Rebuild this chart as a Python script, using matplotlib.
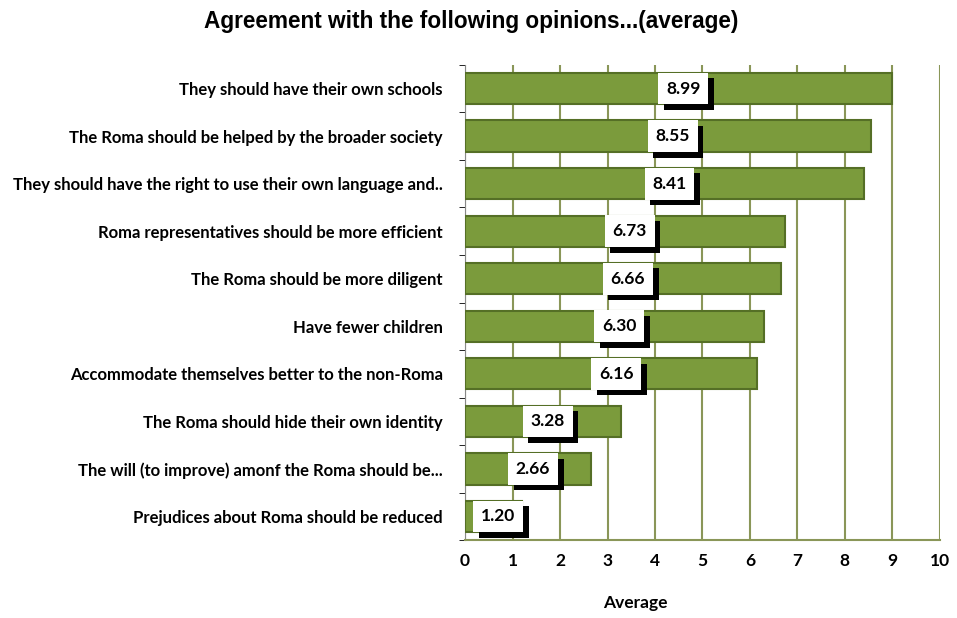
import matplotlib
matplotlib.use("Agg")
import matplotlib.pyplot as plt
import matplotlib.patheffects as pe
import numpy as np

categories = [
    "They should have their own schools",
    "The Roma should be helped by the broader society",
    "They should have the right to use their own language and..",
    "Roma representatives should be more efficient",
    "The Roma should be more diligent",
    "Have fewer children",
    "Accommodate themselves better to the non-Roma",
    "The Roma should hide their own identity",
    "The will (to improve) amonf the Roma should be...",
    "Prejudices about Roma should be reduced",
]
values = [8.99, 8.55, 8.41, 6.73, 6.66, 6.30, 6.16, 3.28, 2.66, 1.20]
xticks = list(range(0, 11))

bar_color = "#7b9b3c"
edge_color = "#556f26"
grid_color = "#8a9658"

fig = plt.figure(figsize=(9.57, 6.18), dpi=100)
ax = fig.add_axes([0.486, 0.126, 0.496, 0.769])

y = np.arange(len(categories))
ax.barh(y, values, height=0.66, color=bar_color, edgecolor=edge_color,
        linewidth=1.5, zorder=3)

for yi, v in zip(y, values):
    t = ax.text(v / 2 + 0.1, yi, f"{v:.2f}", ha="center", va="center",
                fontsize=12.5, fontweight="bold", family="Lato", zorder=5,
                bbox=dict(boxstyle="square,pad=0.45", fc="white", ec="none"))
    t.get_bbox_patch().set_path_effects([
        pe.SimplePatchShadow(offset=(4, -4), shadow_rgbFace="black", alpha=1),
        pe.Normal()])

ax.set_ylim(len(categories) - 0.5, -0.5)
ax.set_xlim(0, 10)
ax.set_xticks(xticks)
ax.set_xticklabels([str(t) for t in xticks], fontsize=12.5, fontweight="bold",
                   family="Lato")
ax.set_yticks(y)
ax.set_yticklabels(categories, fontsize=12, fontweight="bold", family="Lato")
ax.set_yticks(np.arange(len(categories) + 1) - 0.5, minor=True)
ax.tick_params(axis="y", which="major", length=0, pad=16)
ax.tick_params(axis="y", which="minor", length=4, color="black")
ax.tick_params(axis="x", length=0, pad=9)

ax.grid(axis="x", color=grid_color, linewidth=1.5, zorder=0)
for s in ["top", "right"]:
    ax.spines[s].set_visible(False)
ax.spines["left"].set_color("#888888")
ax.spines["bottom"].set_color(grid_color)
ax.spines["bottom"].set_linewidth(1.5)

ax.set_xlabel("Average", fontsize=12.5, fontweight="bold", family="Lato")
ax.xaxis.set_label_coords(0.358, -0.115)

fig.text(0.492, 0.966, "Agreement with the following opinions...(average)",
         ha="center", va="center", fontsize=16.3, fontweight="bold",
         family="Liberation Sans")

fig.savefig("out.png", dpi=100)
